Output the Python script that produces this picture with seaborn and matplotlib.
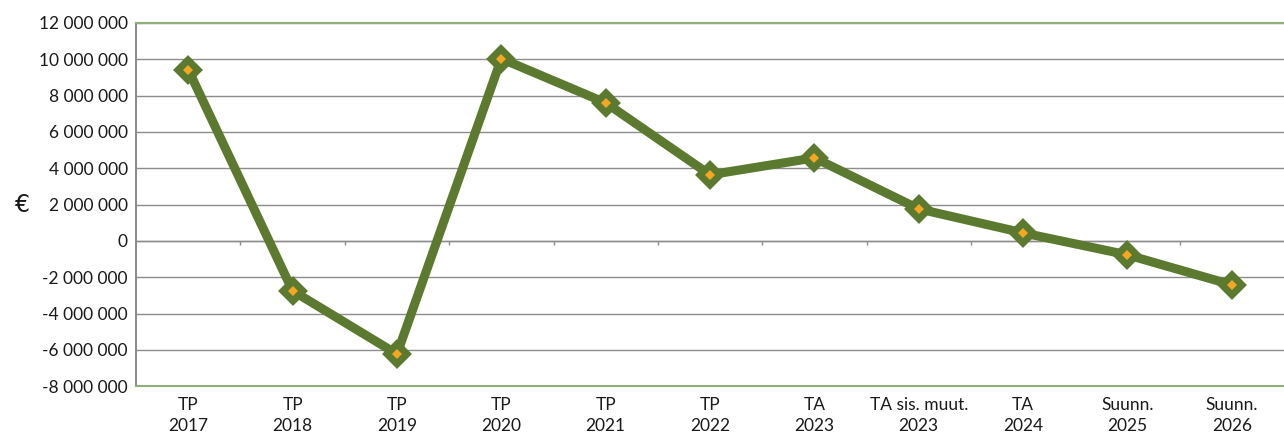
import numpy as np
import pandas as pd
import matplotlib
matplotlib.use('Agg')
import matplotlib.pyplot as plt
import seaborn as sns
from matplotlib.ticker import FuncFormatter, MultipleLocator

categories = ['TP\n2017', 'TP\n2018', 'TP\n2019', 'TP\n2020', 'TP\n2021', 'TP\n2022',
              'TA\n2023', 'TA sis. muut.\n2023', 'TA\n2024', 'Suunn.\n2025', 'Suunn.\n2026']
values = [9420000, -2750000, -6230000, 10030000, 7600000, 3640000,
          4570000, 1760000, 440000, -770000, -2420000]

df = pd.DataFrame({'cat': categories, 'value': values})
df['pos'] = np.arange(len(df))

sns.set_style('white')
plt.rcParams['font.family'] = ['Lato', 'DejaVu Sans']

line_green = '#5b7a2f'
fig = plt.figure(figsize=(12.84, 4.32), dpi=100)
ax = fig.add_axes([0.106, 0.106, 0.894, 0.841])

sns.lineplot(data=df, x='pos', y='value', ax=ax, color=line_green, linewidth=6.5,
             solid_joinstyle='round', zorder=3)
ax.plot(df['pos'], df['value'], linestyle='none', marker='D', markersize=12,
        markerfacecolor=line_green, markeredgecolor=line_green,
        markeredgewidth=3, zorder=4)
ax.plot(df['pos'], df['value'], linestyle='none', marker='D', markersize=5,
        markerfacecolor='#f5a623', markeredgewidth=0, zorder=5)

ax.set_xlim(-0.5, len(df) - 0.5)
ax.set_ylim(-8000000, 12000000)
ax.yaxis.set_major_locator(MultipleLocator(2000000))
ax.yaxis.set_major_formatter(FuncFormatter(lambda v, p: f'{int(v):,}'.replace(',', ' ')))
ax.grid(axis='y', color='#8c8c8c', linewidth=1)
ax.set_axisbelow(True)

# zero line with small category separator ticks
ax.axhline(0, color='#8c8c8c', linewidth=1, zorder=1)
ax.vlines(df['pos'][:-1] + 0.5, -250000, 0, color='#8c8c8c', linewidth=1, zorder=1)

ax.set_xticks(df['pos'])
ax.set_xticklabels(df['cat'], fontsize=12.5, color='#1a1a1a', linespacing=1.35)
ax.tick_params(axis='x', length=0, pad=8)
ax.tick_params(axis='y', length=0, labelsize=12.5, labelcolor='#1a1a1a', pad=6)
ax.set_xlabel('')
ax.set_ylabel('€', fontsize=17, rotation=0, labelpad=12, va='center',
              color='#1a1a1a', family=['DejaVu Sans'])

for s in ['top', 'bottom']:
    ax.spines[s].set_color('#8fb07a')
    ax.spines[s].set_linewidth(1.5)
ax.spines['left'].set_color('#8c8c8c')
ax.spines['left'].set_linewidth(1.5)
ax.spines['right'].set_visible(False)

fig.savefig('out.png', dpi=100)
